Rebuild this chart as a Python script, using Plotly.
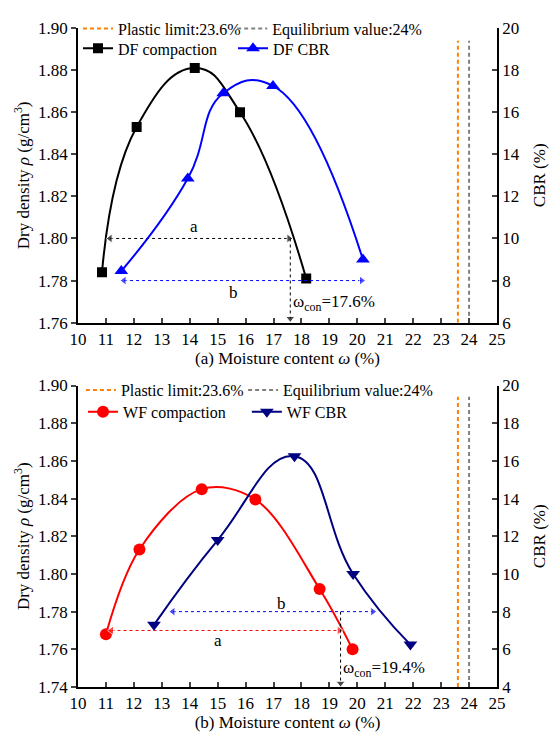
import plotly.graph_objects as go

# ---------------- data ----------------
df_w = [10.86, 12.1, 14.18, 15.8, 18.17]
df_rho = [1.784, 1.853, 1.881, 1.860, 1.781]
dfcbr_w = [11.55, 13.93, 15.2, 16.98, 20.2]
dfcbr = [8.45, 12.85, 16.9, 17.25, 9.0]

wf_w = [11.0, 12.2, 14.43, 16.35, 18.65, 19.83]
wf_rho = [1.768, 1.813, 1.845, 1.8395, 1.792, 1.760]
wfcbr_w = [12.72, 15.0, 17.75, 19.85, 21.9]
wfcbr = [7.3, 11.8, 16.25, 10.0, 6.25]

plastic_limit = 23.6
equilibrium = 24.0
ref_top = 1.894

# annotation guides
top_a_x = [11.15, 17.55]; top_a_y = 1.80
top_b_x = [11.65, 20.15]; top_b_cbr = 8
top_con = 17.6; top_con_y = [1.80, 1.762]
bot_a_x = [11.2, 19.35]; bot_a_y = 1.77
bot_b_x = [13.4, 20.55]; bot_b_cbr = 8
bot_con = 19.4; bot_con_y = [1.78, 1.742]

FONT = "Liberation Serif, Times New Roman, DejaVu Serif, serif"
fig = go.Figure()

def vlines(xa, ya, y0, leg_a, leg_b):
    fig.add_trace(go.Scatter(x=[plastic_limit, plastic_limit], y=[y0, ref_top], mode="lines",
                             line=dict(color="#FF8000", width=2, dash="4px,3px"),
                             name="Plastic limit:23.6%", xaxis=xa, yaxis=ya, legend=leg_a))
    fig.add_trace(go.Scatter(x=[equilibrium, equilibrium], y=[y0, ref_top], mode="lines",
                             line=dict(color="#808080", width=2, dash="4px,3px"),
                             name="Equilibrium value:24%", xaxis=xa, yaxis=ya, legend=leg_b))

# ---- top panel ----
vlines("x", "y", 1.76, "legend", "legend2")
fig.add_trace(go.Scatter(x=df_w, y=df_rho, mode="lines+markers",
                         line=dict(color="black", width=2, shape="spline", smoothing=1.3),
                         marker=dict(symbol="square", size=10, color="black"), name="DF compaction",
                         xaxis="x", yaxis="y", legend="legend3"))
fig.add_trace(go.Scatter(x=dfcbr_w, y=dfcbr, mode="lines+markers",
                         line=dict(color="#0000FF", width=2, shape="spline", smoothing=1.3),
                         marker=dict(symbol="triangle-up", size=12, color="#0000FF"), name="DF CBR",
                         xaxis="x", yaxis="y2", legend="legend4"))

# ---- bottom panel ----
vlines("x2", "y3", 1.74, "legend5", "legend6")
fig.add_trace(go.Scatter(x=wf_w, y=wf_rho, mode="lines+markers",
                         line=dict(color="#FF0000", width=2, shape="spline", smoothing=1.0),
                         marker=dict(symbol="circle", size=12, color="#FF0000"), name="WF compaction",
                         xaxis="x2", yaxis="y3", legend="legend7"))
fig.add_trace(go.Scatter(x=wfcbr_w, y=wfcbr, mode="lines+markers",
                         line=dict(color="#000080", width=2, shape="spline", smoothing=1.3),
                         marker=dict(symbol="triangle-down", size=12, color="#000080"), name="WF CBR",
                         xaxis="x2", yaxis="y4", legend="legend8"))

def guide(xs, ys, color, syms, sizes, xa, ya):
    fig.add_trace(go.Scatter(x=xs, y=ys, mode="lines+markers", line=dict(color=color, width=1, dash="dot"),
                             marker=dict(symbol=syms, size=sizes, color=color), xaxis=xa, yaxis=ya,
                             showlegend=False, hoverinfo="skip"))

LR = ["triangle-left", "triangle-right"]
guide(top_a_x, [top_a_y] * 2, "black", LR, [8, 8], "x", "y")
guide(top_b_x, [top_b_cbr] * 2, "#0000FF", LR, [8, 8], "x", "y2")
guide([top_con, top_con], top_con_y, "black", ["circle", "triangle-down"], [0, 8], "x", "y")
guide(bot_a_x, [bot_a_y] * 2, "#FF0000", LR, [8, 8], "x2", "y3")
guide(bot_b_x, [bot_b_cbr] * 2, "#0000FF", LR, [8, 8], "x2", "y4")
guide([bot_con, bot_con], bot_con_y, "black", ["circle", "triangle-down"], [0, 8], "x2", "y3")

tf = dict(family=FONT, size=17, color="black")
ann = []
def txt(x, y, s, xa, ya, anchor="center"):
    ann.append(dict(x=x, y=y, xref=xa, yref=ya, text=s, showarrow=False, font=tf, xanchor=anchor, yanchor="middle"))

txt(14.15, 1.8055, "a", "x", "y")
txt(15.55, 1.7745, "b", "x", "y")
txt(17.62, 1.7695, "ω<sub>con</sub>=17.6%", "x", "y", "left")
txt(15.02, 1.7645, "a", "x2", "y3")
txt(17.28, 1.7845, "b", "x2", "y3")
txt(19.42, 1.7495, "ω<sub>con</sub>=19.4%", "x2", "y3", "left")

top_dom = [0.5529, 1.0]
bot_dom = [0.0, 0.4575]

xcommon = dict(range=[10, 25], dtick=1, ticks="inside", ticklen=5, tickwidth=1.5, showline=True, linewidth=1.5,
               linecolor="black", showgrid=False, zeroline=False, tickfont=tf, title_font=tf, title_standoff=4,
               automargin=False)
ycommon = dict(ticks="outside", ticklen=5, tickwidth=1.5, showline=True, linewidth=1.5, linecolor="black",
               showgrid=False, zeroline=False, tickfont=tf, title_font=tf, tickformat=".2f", dtick=0.02,
               automargin=False, title_standoff=4)
y2common = dict(ticks="inside", ticklen=5, tickwidth=1.5, showline=True, linewidth=1.5, linecolor="black",
                showgrid=False, zeroline=False, tickfont=tf, title_font=tf, dtick=2, side="right",
                automargin=False, title_text="CBR (%)")

lf = dict(family=FONT, size=16, color="black")
def leg(x, y):
    return dict(x=x, y=y, xanchor="left", yanchor="middle", orientation="h",
                bgcolor="rgba(0,0,0,0)", font=lf, tracegroupgap=0, itemwidth=30)

r1t, r2t = 0.999, 0.969
r1b, r2b = 0.4505, 0.4177
fig.update_layout(
    width=549, height=733, margin=dict(l=78, r=52, t=16, b=46),
    plot_bgcolor="white", paper_bgcolor="white",
    font=dict(family=FONT, size=17, color="black"),
    xaxis=dict(xcommon, domain=[0, 1], anchor="y", title_text="(a) Moisture content <i>ω</i> (%)"),
    yaxis=dict(ycommon, domain=top_dom, range=[1.76, 1.90], anchor="x",
               title_text="Dry density <i>ρ</i> (g/cm<sup>3</sup>)"),
    yaxis2=dict(y2common, overlaying="y", anchor="x", range=[6, 20]),
    xaxis2=dict(xcommon, domain=[0, 1], anchor="y3", title_text="(b) Moisture content <i>ω</i> (%)"),
    yaxis3=dict(ycommon, domain=bot_dom, range=[1.74, 1.90], anchor="x2",
                title_text="Dry density <i>ρ</i> (g/cm<sup>3</sup>)"),
    yaxis4=dict(y2common, overlaying="y3", anchor="x2", range=[4, 20]),
    legend=leg(0.0, r1t),
    legend2=leg(0.368, r1t),
    legend3=leg(0.0, r2t),
    legend4=leg(0.370, r2t),
    legend5=leg(0.007, r1b),
    legend6=leg(0.394, r1b),
    legend7=leg(0.012, r2b),
    legend8=leg(0.403, r2b),
    annotations=ann,
)

fig.write_html("out.html")
